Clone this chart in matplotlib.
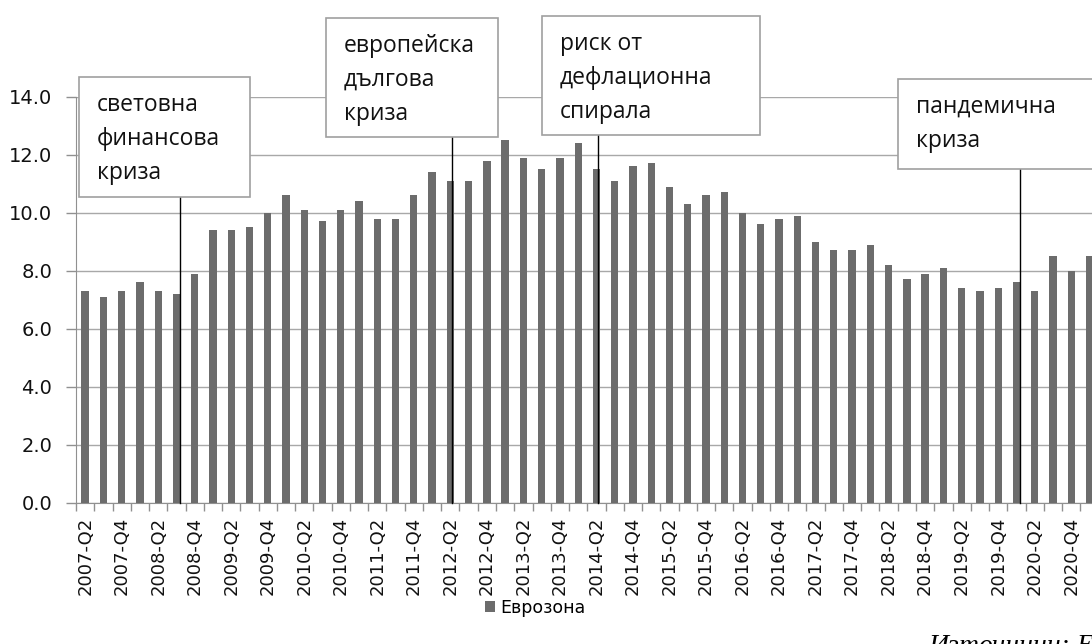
import matplotlib
matplotlib.use("Agg")
import matplotlib.pyplot as plt
from matplotlib.patches import Rectangle
import numpy as np

plt.rcParams['font.family'] = ['DejaVu Sans']

# ---- data ----
years = list(range(2007, 2022))
quarters = []
for y in years:
    for q in (1, 2, 3, 4):
        quarters.append(f"{y}-Q{q}")
quarters = quarters[quarters.index("2007-Q2"):quarters.index("2021-Q1") + 1]

values = [7.3, 7.1, 7.3, 7.6, 7.3, 7.2, 7.9, 9.4, 9.4, 9.5,
          10.0, 10.6, 10.1, 9.7, 10.1, 10.4, 9.8, 9.8, 10.6, 11.4,
          11.1, 11.1, 11.8, 12.5, 11.9, 11.5, 11.9, 12.4, 11.5, 11.1,
          11.6, 11.7, 10.9, 10.3, 10.6, 10.7, 10.0, 9.6, 9.8, 9.9,
          9.0, 8.7, 8.7, 8.9, 8.2, 7.7, 7.9, 8.1, 7.4, 7.3,
          7.4, 7.6, 7.3, 8.5, 8.0, 8.5]

series_name = "Еврозона"
yticks = [0, 2, 4, 6, 8, 10, 12, 14]

events = ["световна\nфинансова\nкриза",
          "европейска\nдългова\nкриза",
          "риск от\nдефлационна\nспирала",
          "пандемична\nкриза"]
event_quarters = ["2008-Q3", "2012-Q2", "2014-Q2", "2020-Q1"]
source_text = "Източници: Евростат"

# ---- figure ----
fig = plt.figure(figsize=(10.92, 6.44), dpi=100)
ax = fig.add_axes([76 / 1092, 1 - 502.7 / 644, 1022.6 / 1092, 406 / 644])

x = np.arange(len(quarters))
bar_color = "#6c6c6c"
ax.bar(x, values, width=0.4, color=bar_color, zorder=3, label=series_name)

ax.set_xlim(-0.5, len(quarters) - 0.5)
ax.set_ylim(0, 14)
ax.set_yticks(yticks)
ax.set_yticklabels([f"{v:.1f}" for v in yticks], fontsize=14, color="#111111")
ax.grid(axis='y', color="#a8a8a8", linewidth=1, zorder=0)
ax.set_axisbelow(True)

ax.set_xticks(x[::2])
ax.set_xticklabels(quarters[::2], rotation=90, fontsize=13, color="#111111")
ax.set_xticks(np.arange(-0.5, len(quarters), 1), minor=True)
ax.tick_params(axis='x', which='major', length=0, pad=10)
ax.tick_params(axis='x', which='minor', length=6, color="#909090", width=1)
ax.tick_params(axis='y', length=7, color="#909090", width=1, pad=10)

for s in ("top", "right"):
    ax.spines[s].set_visible(False)
ax.spines["left"].set_color("#909090")
ax.spines["bottom"].set_color("#909090")

# ---- event boxes (positions in data units) ----
boxes = [(-0.34, 10.54, 9.37, 4.14),
         (13.19, 12.61, 9.42, 4.10),
         (25.02, 12.68, 11.94, 4.11),
         (44.52, 11.50, 11.5, 3.11)]
line_offsets = [0.2, 0.1, 0.1, 0.2]
for (bx, by, bw, bh), label, eq, off in zip(boxes, events, event_quarters, line_offsets):
    rect = Rectangle((bx, by), bw, bh, facecolor="white", edgecolor="#a0a0a0",
                     linewidth=1.2, zorder=6, clip_on=False)
    ax.add_patch(rect)
    ax.text(bx + 0.98, by + bh - 0.55, label, ha="left", va="top",
            fontsize=16.5, linespacing=1.55, zorder=7, clip_on=False,
            family=["Open Sans", "DejaVu Sans"], color="#111111")
    xi = quarters.index(eq) + off
    ax.plot([xi, xi], [0, by], color="black", linewidth=1, zorder=5, clip_on=False)

# ---- legend ----
leg = fig.legend(loc="center", bbox_to_anchor=(535 / 1092, 1 - 608 / 644),
                 frameon=False, fontsize=12.5, handlelength=0.6, handleheight=0.6,
                 handletextpad=0.3)

fig.text(928 / 1092, 1 - 653 / 644, source_text, fontsize=20, style="italic",
         family=["Liberation Serif", "DejaVu Serif"], ha="left", va="baseline")

fig.savefig("out.png", dpi=100, facecolor="white")
